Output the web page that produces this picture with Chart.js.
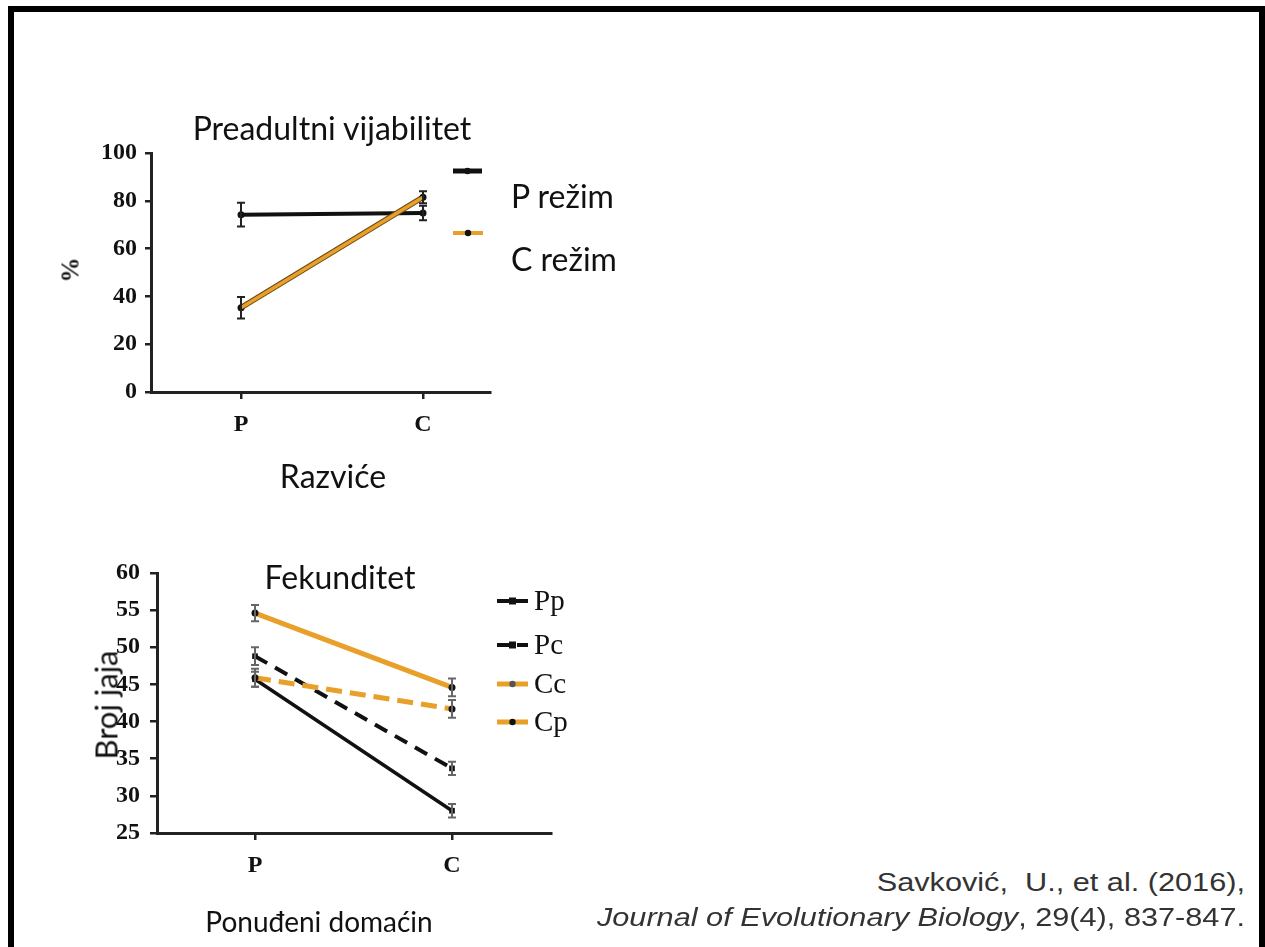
<!DOCTYPE html>
<html>
<head>
<meta charset="utf-8">
<script src="https://cdn.jsdelivr.net/npm/chart.js@4.4.1/dist/chart.umd.min.js"></script>
<style>
  html, body { margin: 0; padding: 0; background: #fff; }
  #page { position: relative; width: 1265px; height: 947px; overflow: hidden; background: #fff; }
  .bar { position: absolute; background: #000; }
  canvas { position: absolute; }
  .txt { position: absolute; white-space: nowrap; line-height: 1; color: #111;
         font-family: Lato, "Open Sans", sans-serif; transform: translate(-50%, -50%); }
  .left { transform: translate(0, -50%); }
  .right { transform-origin: 100% 50%; transform: translate(-100%, -50%) scaleX(1.18); }
  .cite { font-family: "Liberation Sans", Arial, sans-serif; color: #333; font-size: 26px; }
</style>
</head>
<body>
<div id="page">
  <div class="bar" style="left:8px;top:6px;width:1257px;height:6px"></div>
  <div class="bar" style="left:8px;top:6px;width:6px;height:941px"></div>
  <div class="bar" style="left:1259px;top:6px;width:6px;height:941px"></div>

  <div id="wrapTop" style="position:absolute;left:0;top:0;width:640px;height:470px">
    <canvas id="viab"></canvas>
  </div>
  <div id="wrapBottom" style="position:absolute;left:0;top:470px;width:640px;height:477px">
    <canvas id="fec"></canvas>
  </div>

  <div class="txt" style="left:332px;top:128px;font-size:32px">Preadultni vijabilitet</div>
  <div class="txt left" style="left:511px;top:196px;font-size:32px">P režim</div>
  <div class="txt left" style="left:511px;top:259px;font-size:32px">C režim</div>
  <div class="txt" style="left:333px;top:476px;font-size:32px">Razviće</div>
  <div class="txt" style="left:70px;top:270px;font-size:25px;font-weight:bold;font-family:'Liberation Serif',serif;transform:translate(-50%,-50%) rotate(-90deg)">%</div>

  <div class="txt" style="left:340px;top:577px;font-size:32px">Fekunditet</div>
  <div class="txt" style="left:106px;top:705px;font-size:31px;transform:translate(-50%,-50%) rotate(-90deg)">Broj jaja</div>
  <div class="txt" style="left:319px;top:921px;font-size:28px">Ponuđeni domaćin</div>

  <div class="txt right cite" style="left:1245px;top:882px">Savković,&nbsp; U., et al. (2016),</div>
  <div class="txt right cite" style="left:1245px;top:917px"><i>Journal of Evolutionary Biology</i>, 29(4), 837-847.</div>
</div>

<script>
// ---- Preadultni vijabilitet (%), by developmental host ----
const viabCategories = ['P', 'C'];
const viabTicks = [0, 20, 40, 60, 80, 100];
const viabP = [74.2, 74.9];      // P režim
const viabPErr = [5.0, 3.0];
const viabC = [35.3, 81.5];      // C režim
const viabCErr = [4.5, 2.5];

// ---- Fekunditet (broj jaja), by offered host ----
const fecCategories = ['P', 'C'];
const fecTicks = [25, 30, 35, 40, 45, 50, 55, 60];
const fecPp = [45.7, 28.0];
const fecPpErr = [1.0, 0.9];
const fecPc = [48.8, 33.7];
const fecPcErr = [1.2, 0.9];
const fecCc = [54.6, 44.6];
const fecCcErr = [1.1, 1.2];
const fecCp = [45.9, 41.7];
const fecCpErr = [1.2, 1.2];

const BLACK = '#111111';
const ORANGE = '#E9A02A';
const AXIS = '#222222';
const TICK_FONT = { family: "'Liberation Serif', 'Times New Roman', serif", size: 24, weight: 'bold' };

const toPoints = (vals) => vals.map((v, i) => ({ x: i, y: v }));

// vertical error bars with caps, drawn from each dataset's err array
const errorBars = {
  id: 'errorBars',
  afterDatasetsDraw(chart) {
    const { ctx, scales: { x, y } } = chart;
    ctx.save();
    chart.data.datasets.forEach((ds) => {
      if (!ds.err) return;
      ctx.strokeStyle = ds.errColor || AXIS;
      ctx.lineWidth = 2;
      ctx.setLineDash([]);
      ds.data.forEach((p, i) => {
        const px = x.getPixelForValue(p.x);
        const top = y.getPixelForValue(p.y + ds.err[i]);
        const bot = y.getPixelForValue(p.y - ds.err[i]);
        ctx.beginPath();
        ctx.moveTo(px, top); ctx.lineTo(px, bot);
        ctx.moveTo(px - 4, top); ctx.lineTo(px + 4, top);
        ctx.moveTo(px - 4, bot); ctx.lineTo(px + 4, bot);
        ctx.stroke();
      });
    });
    ctx.restore();
  }
};

// line-sample legend with optional text labels
function legendPlugin(items) {
  return {
    id: 'sampleLegend',
    afterDraw(chart) {
      const ctx = chart.ctx;
      ctx.save();
      items.forEach((it) => {
        ctx.strokeStyle = it.color;
        ctx.lineWidth = it.width;
        ctx.setLineDash(it.dash || []);
        ctx.beginPath();
        ctx.moveTo(it.x0, it.y); ctx.lineTo(it.x1, it.y);
        ctx.stroke();
        ctx.setLineDash([]);
        if (it.marker) {
          const mx = (it.x0 + it.x1) / 2;
          ctx.fillStyle = it.marker;
          ctx.beginPath();
          if (it.square) ctx.rect(mx - 3.5, it.y - 3.5, 7, 7);
          else ctx.arc(mx, it.y, 3.2, 0, Math.PI * 2);
          ctx.fill();
        }
        if (it.label) {
          ctx.fillStyle = BLACK;
          ctx.font = "29px 'Liberation Serif', 'Times New Roman', serif";
          ctx.textBaseline = 'middle';
          ctx.fillText(it.label, it.x1 + 6, it.y + 1);
        }
      });
      ctx.restore();
    }
  };
}

function axisOptions(min, max, tickValues, labelFn, fit, padding, tickLen) {
  return {
    type: 'linear',
    min, max,
    afterBuildTicks: (s) => { s.ticks = tickValues.map((v) => ({ value: v })); },
    afterFit: fit,
    ticks: { font: TICK_FONT, color: BLACK, padding, callback: labelFn, autoSkip: false, maxRotation: 0 },
    grid: { display: true, drawOnChartArea: false, drawTicks: true, tickLength: tickLen, color: AXIS, lineWidth: 2.5 },
    border: { display: true, color: AXIS, width: 3 }
  };
}

const commonOpts = {
  responsive: true,
  maintainAspectRatio: false,
  animation: false,
  plugins: { legend: { display: false }, tooltip: { enabled: false } },
  elements: { line: { tension: 0 } }
};

new Chart(document.getElementById('viab'), {
  type: 'line',
  data: {
    datasets: [
      { label: 'C režim', data: toPoints(viabC), err: viabCErr, borderColor: ORANGE, borderWidth: 3.5,
        pointRadius: 0, order: 0 },
      { label: 'C režim (obris)', data: toPoints(viabC), borderColor: '#6b4a12', borderWidth: 5.5,
        pointRadius: 3.5, pointBackgroundColor: BLACK, pointBorderWidth: 0, order: 1 },
      { label: 'P režim', data: toPoints(viabP), err: viabPErr, borderColor: BLACK, borderWidth: 4,
        pointRadius: 3.5, pointBackgroundColor: BLACK, pointBorderWidth: 0, order: 2 }
    ]
  },
  options: {
    ...commonOpts,
    layout: { padding: { top: 153, right: 150, left: 0, bottom: 0 } },
    scales: {
      x: axisOptions(-0.4945, 1.368, [0, 1], (v) => viabCategories[v] ?? '',
        (s) => { s.height = 470 - 392; }, 11, 7),
      y: axisOptions(0, 100, viabTicks, (v) => String(v),
        (s) => { s.width = 151; }, 8, 6)
    }
  },
  plugins: [errorBars, legendPlugin([
    { x0: 453, x1: 482, y: 171, color: BLACK, width: 5, marker: BLACK },
    { x0: 453, x1: 483, y: 233, color: ORANGE, width: 4, marker: BLACK }
  ])]
});

new Chart(document.getElementById('fec'), {
  type: 'line',
  data: {
    datasets: [
      { label: 'Cc', data: toPoints(fecCc), err: fecCcErr, errColor: '#666', borderColor: ORANGE, borderWidth: 5,
        pointRadius: 3.5, pointBackgroundColor: BLACK, pointBorderWidth: 0, order: 0 },
      { label: 'Cp', data: toPoints(fecCp), err: fecCpErr, errColor: '#666', borderColor: ORANGE, borderWidth: 5,
        borderDash: [16, 8], pointRadius: 3.5, pointBackgroundColor: BLACK, pointBorderWidth: 0, order: 1 },
      { label: 'Pc', data: toPoints(fecPc), err: fecPcErr, errColor: '#666', borderColor: BLACK, borderWidth: 4,
        borderDash: [14, 9], pointStyle: 'rect', pointRadius: 4, pointBackgroundColor: BLACK, pointBorderWidth: 0, order: 2 },
      { label: 'Pp', data: toPoints(fecPp), err: fecPpErr, errColor: '#666', borderColor: BLACK, borderWidth: 3.5,
        pointStyle: 'rect', pointRadius: 4, pointBackgroundColor: BLACK, pointBorderWidth: 0, order: 3 }
    ]
  },
  options: {
    ...commonOpts,
    layout: { padding: { top: 103, right: 89, left: 0, bottom: 0 } },
    scales: {
      x: axisOptions(-0.4975, 1.5025, [0, 1], (v) => fecCategories[v] ?? '',
        (s) => { s.height = 477 - 363; }, 11, 7),
      y: axisOptions(25, 60, fecTicks, (v) => String(v),
        (s) => { s.width = 157; }, 10, 7)
    }
  },
  plugins: [errorBars, legendPlugin([
    { x0: 497, x1: 528, y: 601 - 470, color: BLACK, width: 4, marker: BLACK, square: true, label: 'Pp' },
    { x0: 497, x1: 528, y: 645 - 470, color: BLACK, width: 4, dash: [14, 6], marker: BLACK, square: true, label: 'Pc' },
    { x0: 497, x1: 528, y: 684 - 470, color: ORANGE, width: 5, marker: '#555', label: 'Cc' },
    { x0: 497, x1: 528, y: 722 - 470, color: ORANGE, width: 5, dash: [13, 5], marker: BLACK, label: 'Cp' }
  ])]
});
</script>
</body>
</html>
